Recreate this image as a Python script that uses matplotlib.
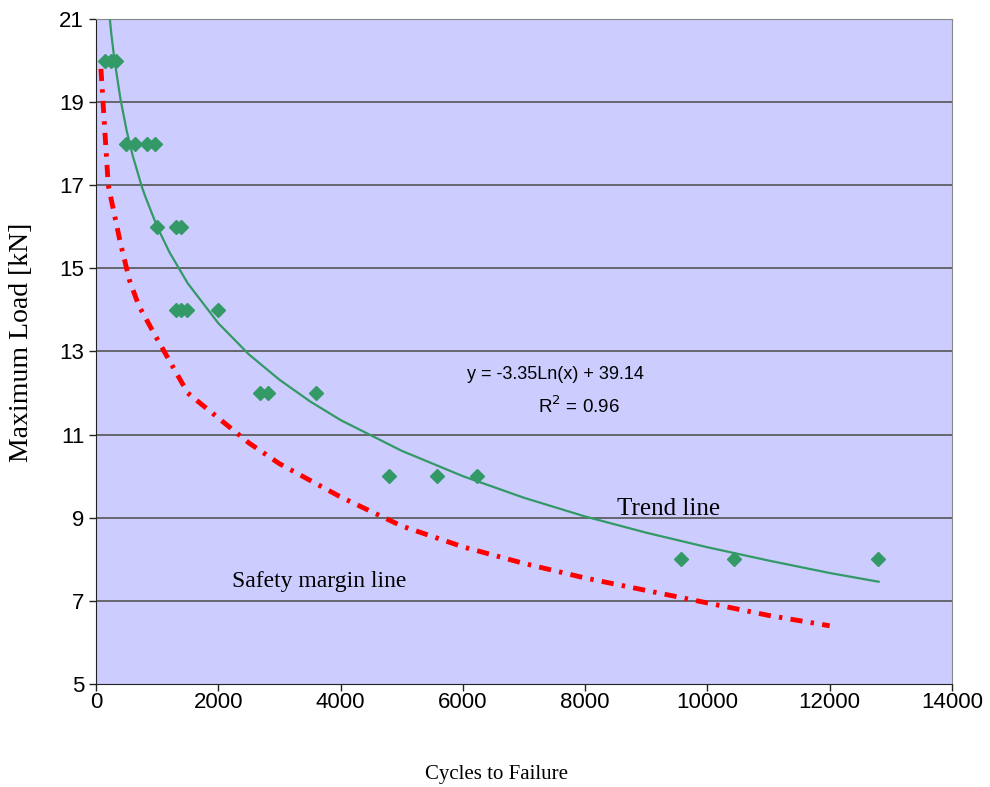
import numpy as np
import matplotlib.pyplot as plt

# measured points (cycles to failure, max load kN)
cycles = [150, 250, 320, 490, 640, 835, 965, 1000, 1310, 1390,
          1310, 1390, 1490, 2000, 2680, 2810, 3600,
          4790, 5580, 6230, 9570, 10430, 12790]
load = [20, 20, 20, 18, 18, 18, 18, 16, 16, 16,
        14, 14, 14, 14, 12, 12, 12,
        10, 10, 10, 8, 8, 8]

# trend line as drawn
trend_x = [150, 200, 250, 300, 400, 500, 600, 750, 800, 1000, 1200, 1500, 2000,
           2500, 3000, 3500, 4000, 5000, 6000, 7000, 8000, 9000, 10000, 11000,
           12000, 12800]
trend_y = [22.35, 21.39, 20.64, 20.03, 19.07, 18.32, 17.71, 16.96, 16.75, 16.0,
           15.39, 14.64, 13.68, 12.93, 12.32, 11.80, 11.35, 10.61, 10.0, 9.48,
           9.03, 8.64, 8.29, 7.97, 7.67, 7.46]

# safety margin line
safe_x = [80, 200, 300, 400, 550, 700, 1000, 1500, 2000, 2500, 3000, 3500,
          4000, 5000, 6000, 7000, 8000, 9000, 10000, 11000, 12000]
safe_y = [19.8, 17.0, 16.3, 15.6, 14.7, 14.1, 13.3, 12.0, 11.4, 10.8, 10.3,
          9.9, 9.5, 8.8, 8.3, 7.9, 7.55, 7.25, 6.95, 6.65, 6.4]

fig = plt.figure(figsize=(9.9, 7.87), dpi=100)
ax = fig.add_axes([0.097, 0.1309, 0.8646, 0.845])
ax.set_facecolor('#CCCCFF')

for yv in range(7, 22, 2):
    ax.axhline(yv, color='#555555', lw=1.2, zorder=1)

ax.plot(trend_x, trend_y, color='#339966', lw=1.6, zorder=3)
ax.plot(safe_x, safe_y, color='red', lw=3.5, dashes=(2.5, 1.7, 0.7, 1.7),
        zorder=3)
ax.plot(cycles, load, 'D', color='#339966', ms=7, zorder=4, clip_on=False)

ax.set_xlim(0, 14000)
ax.set_ylim(5, 21)
ax.set_xticks(range(0, 14001, 2000))
ax.set_yticks(range(5, 22, 2))

for s in ['top', 'right']:
    ax.spines[s].set_color('#888888')
for s in ['left', 'bottom']:
    ax.spines[s].set_color('#222222')
ax.tick_params(direction='out', length=5, width=1, colors='#222222',
               labelcolor='black', labelsize=16)
ax.tick_params(axis='x', pad=1)
for lab in ax.get_xticklabels() + ax.get_yticklabels():
    lab.set_fontfamily('Liberation Sans')

ax.text(0.433, 0.4647, 'y = -3.35Ln(x) + 39.14', transform=ax.transAxes,
        fontsize=13, family='Liberation Sans', ha='left', va='center')
ax.text(0.516, 0.418, 'R$^2$ = 0.96', transform=ax.transAxes,
        fontsize=13.5, family='Liberation Sans', ha='left', va='center')
ax.text(0.6086, 0.2635, 'Trend line', transform=ax.transAxes,
        fontsize=18, family='Liberation Serif', ha='left', va='center')
ax.text(0.1589, 0.1545, 'Safety margin line', transform=ax.transAxes,
        fontsize=17, family='Liberation Serif', ha='left', va='center')

fig.text(0.502, 0.016, 'Cycles to Failure', fontsize=15,
         family='Liberation Serif', ha='center', va='center')
fig.text(0.022, 0.565, 'Maximum Load [kN]', fontsize=20, rotation=90,
         family='Liberation Serif', ha='center', va='center')

fig.savefig('out.png', dpi=100)
